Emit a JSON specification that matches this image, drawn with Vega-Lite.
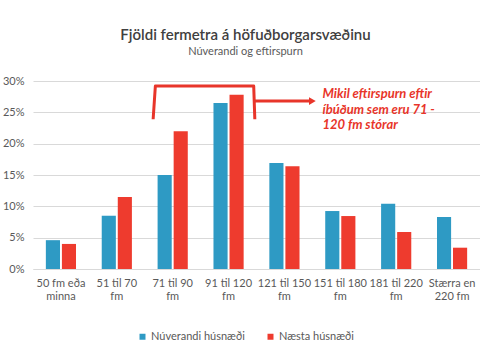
{
  "$schema": "https://vega.github.io/schema/vega-lite/v6.json",
  "width": 447,
  "height": 188,
  "autosize": {"type": "none"},
  "padding": {"left": 33, "top": 81, "right": 0, "bottom": 91},
  "background": "white",
  "title": {
    "text": "Fjöldi fermetra á höfuðborgarsvæðinu",
    "subtitle": "Núverandi og eftirspurn",
    "fontSize": 15,
    "fontWeight": 600,
    "color": "#404040",
    "subtitleColor": "#595959",
    "subtitleFontSize": 11,
    "subtitlePadding": 3,
    "offset": 18,
    "dx": -11,
    "font": "Lato",
    "subtitleFont": "Lato"
  },
  "config": {"view": {"stroke": null}, "font": "Lato"},
  "resolve": {"scale": {"x": "independent"}},
  "encoding": {
    "y": {
      "field": "value",
      "type": "quantitative",
      "scale": {"domain": [0, 30], "nice": false},
      "axis": {
        "title": null,
        "values": [0, 5, 10, 15, 20, 25, 30],
        "labelExpr": "datum.value + '%'",
        "labelOverlap": false,
        "gridColor": "#d9d9d9",
        "domain": false,
        "ticks": false,
        "labelColor": "#595959",
        "labelFontSize": 11,
        "labelPadding": 9
      }
    }
  },
  "layer": [
    {
      "data": {
        "values": [
          {"cat": "50 fm eða|minna", "series": "Núverandi húsnæði", "value": 4.6},
          {"cat": "50 fm eða|minna", "series": "Næsta húsnæði", "value": 4.0},
          {"cat": "51 til 70|fm", "series": "Núverandi húsnæði", "value": 8.5},
          {"cat": "51 til 70|fm", "series": "Næsta húsnæði", "value": 11.5},
          {"cat": "71 til 90|fm", "series": "Núverandi húsnæði", "value": 15.0},
          {"cat": "71 til 90|fm", "series": "Næsta húsnæði", "value": 22.0},
          {"cat": "91 til 120|fm", "series": "Núverandi húsnæði", "value": 26.5},
          {"cat": "91 til 120|fm", "series": "Næsta húsnæði", "value": 27.8},
          {"cat": "121 til 150|fm", "series": "Núverandi húsnæði", "value": 16.9},
          {"cat": "121 til 150|fm", "series": "Næsta húsnæði", "value": 16.4},
          {"cat": "151 til 180|fm", "series": "Núverandi húsnæði", "value": 9.25},
          {"cat": "151 til 180|fm", "series": "Næsta húsnæði", "value": 8.45},
          {"cat": "181 til 220|fm", "series": "Núverandi húsnæði", "value": 10.4},
          {"cat": "181 til 220|fm", "series": "Næsta húsnæði", "value": 5.9},
          {"cat": "Stærra en|220 fm", "series": "Núverandi húsnæði", "value": 8.3},
          {"cat": "Stærra en|220 fm", "series": "Næsta húsnæði", "value": 3.4}
        ]
      },
      "mark": {"type": "bar"},
      "encoding": {
        "x": {
          "field": "cat",
          "type": "nominal",
          "sort": null,
          "scale": {"paddingInner": 0.46, "paddingOuter": 0.23},
          "axis": {
            "title": null,
            "labelExpr": "split(datum.value, '|')",
            "labelAngle": 0,
            "labelFontSize": 11,
            "labelColor": "#595959",
            "labelLineHeight": 13,
            "labelPadding": 8,
            "labelOverlap": false,
            "ticks": false,
            "domain": true,
            "domainColor": "#d9d9d9"
          }
        },
        "xOffset": {"field": "series", "sort": null, "scale": {"paddingInner": 0.12}},
        "color": {
          "field": "series",
          "type": "nominal",
          "sort": null,
          "scale": {"domain": ["Núverandi húsnæði", "Næsta húsnæði"], "range": ["#2e9ac4", "#ee3b2e"]},
          "legend": {
            "orient": "none",
            "direction": "horizontal",
            "legendX": 104,
            "legendY": 250,
            "title": null,
            "symbolType": "square",
            "symbolSize": 36,
            "labelFontSize": 11,
            "labelColor": "#595959",
            "labelOffset": 3,
            "columnPadding": 20
          }
        }
      }
    },
    {
      "data": {
        "values": [
          {"x": 2.15, "value": 23.9, "o": 1},
          {"x": 2.19, "value": 29.2, "o": 2},
          {"x": 3.95, "value": 29.2, "o": 3},
          {"x": 3.97, "value": 23.9, "o": 4}
        ]
      },
      "mark": {"type": "line", "color": "#e8352a", "strokeWidth": 3, "strokeJoin": "round"},
      "encoding": {
        "x": {"field": "x", "type": "quantitative", "scale": {"domain": [0, 8], "nice": false, "zero": false}, "axis": null},
        "order": {"field": "o"}
      }
    },
    {
      "data": {"values": [{"x": 3.97, "x2": 4.95, "value": 26.8}]},
      "mark": {"type": "rule", "color": "#e8352a", "strokeWidth": 3},
      "encoding": {
        "x": {"field": "x", "type": "quantitative", "scale": {"domain": [0, 8], "nice": false, "zero": false}, "axis": null},
        "x2": {"field": "x2"}
      }
    },
    {
      "data": {"values": [{"x": 5.0, "value": 26.8}]},
      "mark": {"type": "point", "shape": "triangle-right", "filled": true, "color": "#e8352a", "size": 60, "opacity": 1},
      "encoding": {
        "x": {"field": "x", "type": "quantitative", "scale": {"domain": [0, 8], "nice": false, "zero": false}, "axis": null}
      }
    },
    {
      "data": {
        "values": [
          {"x": 5.18, "value": 27.3, "t": "Mikil eftirspurn eftir"},
          {"x": 5.18, "value": 24.8, "t": "íbúðum sem eru 71 -"},
          {"x": 5.18, "value": 22.3, "t": "120 fm stórar"}
        ]
      },
      "mark": {"type": "text", "align": "left", "baseline": "alphabetic", "fontStyle": "italic", "fontWeight": "bold", "fontSize": 13, "color": "#e8352a"},
      "encoding": {
        "x": {"field": "x", "type": "quantitative", "scale": {"domain": [0, 8], "nice": false, "zero": false}, "axis": null},
        "text": {"field": "t"}
      }
    }
  ]
}
